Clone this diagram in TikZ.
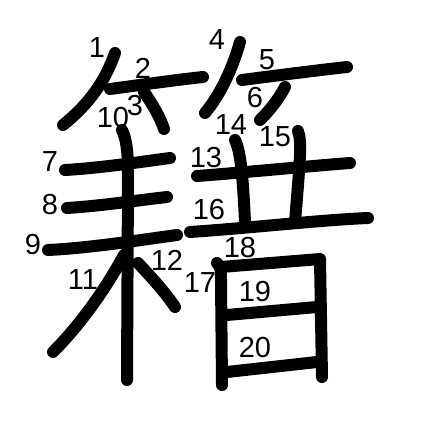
\documentclass[tikz,border=0pt]{standalone}
\usepackage{fontspec}
\setmainfont{Liberation Sans}
\begin{document}
\begin{tikzpicture}[x=1pt,y=-1pt,
  kstroke/.style={line width=12pt,line cap=round,line join=round,black},
  num/.style={font=\fontsize{29}{29}\selectfont,inner sep=0pt,text=black}]
\fill[white] (0,0) rectangle (447,447);
\useasboundingbox (0,0) rectangle (447,447);
% strokes
\draw[kstroke] (115,53) .. controls (105,82) and (88,105) .. (63,125);
\draw[kstroke] (110,89) .. controls (140,85) and (175,80) .. (203,77);
\draw[kstroke] (144,92) .. controls (153,105) and (160,117) .. (164,129);
\draw[kstroke] (240,42) .. controls (232,70) and (220,95) .. (205,113);
\draw[kstroke] (242,80) .. controls (280,75) and (320,70) .. (347,67);
\draw[kstroke] (285,87) .. controls (278,100) and (270,110) .. (260,120);
\draw[kstroke] (65,170) .. controls (100,168) and (140,162) .. (170,158);
\draw[kstroke] (67,208) .. controls (100,206) and (140,200) .. (167,197);
\draw[kstroke] (48,250) .. controls (90,248) and (140,240) .. (177,235);
\draw[kstroke] (122,130) .. controls (127,140) and (128,155) .. (128,175) -- (127,380);
\draw[kstroke] (124,255) .. controls (105,290) and (80,325) .. (53,352);
\draw[kstroke] (138,263) .. controls (152,278) and (165,292) .. (175,307);
\draw[kstroke] (197,176) .. controls (250,172) and (310,166) .. (350,163);
\draw[kstroke] (235,140) .. controls (241,152) and (243,180) .. (245,222);
\draw[kstroke] (298,131) .. controls (302,142) and (300,160) .. (295,222);
\draw[kstroke] (190,232) .. controls (250,228) and (320,220) .. (368,218);
\draw[kstroke] (217,263) .. controls (221,268) .. (221,280) -- (222,385);
\draw[kstroke] (221,267) -- (320,259) -- (322,377);
\draw[kstroke] (227,315) -- (317,307);
\draw[kstroke] (227,372) -- (317,362);
% numbers
\node[num] (n1) at (97,48) {1};
\node[num] (n2) at (143,68) {2};
\node[num] (n3) at (135,106) {3};
\node[num] (n4) at (217,40) {4};
\node[num] (n5) at (267,60) {5};
\node[num] (n6) at (255,98) {6};
\node[num] (n7) at (50,162) {7};
\node[num] (n8) at (50,205) {8};
\node[num] (n9) at (33,245) {9};
\node[num] (n10) at (113,118) {10};
\node[num] (n11) at (83,280) {11};
\node[num] (n12) at (167,260) {12};
\node[num] (n13) at (206,158) {13};
\node[num] (n14) at (231,125) {14};
\node[num] (n15) at (275,137) {15};
\node[num] (n16) at (209,210) {16};
\node[num] (n17) at (200,283) {17};
\node[num] (n18) at (240,248) {18};
\node[num] (n19) at (255,292) {19};
\node[num] (n20) at (255,348) {20};
\end{tikzpicture}
\end{document}
